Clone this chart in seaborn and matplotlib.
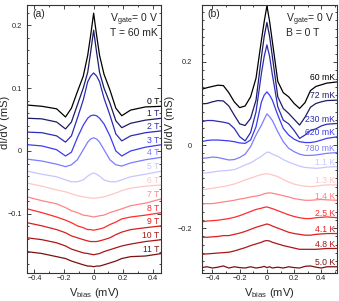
import numpy as np
import pandas as pd
import matplotlib
matplotlib.use("Agg")
import matplotlib.pyplot as plt
import seaborn as sns
from matplotlib.ticker import MultipleLocator, FixedLocator, FixedFormatter
from matplotlib.transforms import blended_transform_factory

# ---- panel (a): field dependence, V_gate = 0, T = 60 mK ----
bias_a = [-0.45, -0.35, -0.25, -0.19, -0.15, -0.11, -0.07, -0.04, -0.02, 0.0,
          0.02, 0.04, 0.07, 0.11, 0.15, 0.19, 0.25, 0.35, 0.46]
field_labels = ["0 T", "1 T", "2 T", "3 T", "4 T", "5 T",
                "6 T", "7 T", "8 T", "9 T", "10 T", "11 T"]

g_0T = [0.073, 0.071, 0.067, 0.054, 0.068, 0.094, 0.119, 0.152, 0.184, 0.219,
        0.184, 0.152, 0.122, 0.097, 0.068, 0.056, 0.065, 0.070, 0.071]
g_1T = [0.052, 0.051, 0.046, 0.035, 0.046, 0.073, 0.100, 0.125, 0.157, 0.192,
        0.157, 0.125, 0.100, 0.076, 0.048, 0.037, 0.044, 0.049, 0.052]
g_2T = [0.030, 0.029, 0.024, 0.014, 0.024, 0.052, 0.081, 0.110, 0.119, 0.124,
        0.119, 0.110, 0.084, 0.057, 0.027, 0.016, 0.024, 0.029, 0.032]
g_3T = [0.010, 0.008, 0.002, -0.008, -0.002, 0.021, 0.041, 0.052, 0.056, 0.057,
        0.056, 0.052, 0.043, 0.024, 0.000, -0.008, 0.000, 0.006, 0.010]
g_4T = [-0.013, -0.016, -0.021, -0.025, -0.022, -0.014, 0.002, 0.014, 0.019, 0.021,
        0.019, 0.014, 0.002, -0.014, -0.022, -0.024, -0.019, -0.014, -0.010]
g_5T = [-0.032, -0.037, -0.041, -0.046, -0.049, -0.049, -0.046, -0.040, -0.037, -0.035,
        -0.037, -0.040, -0.046, -0.049, -0.049, -0.046, -0.041, -0.037, -0.032]
g_6T = [-0.051, -0.056, -0.062, -0.065, -0.068, -0.071, -0.073, -0.074, -0.075, -0.075,
        -0.075, -0.074, -0.073, -0.070, -0.067, -0.063, -0.059, -0.056, -0.054]
g_7T = [-0.073, -0.079, -0.084, -0.090, -0.095, -0.098, -0.102, -0.103, -0.104, -0.105,
        -0.104, -0.103, -0.102, -0.098, -0.095, -0.092, -0.087, -0.083, -0.076]
g_8T = [-0.092, -0.098, -0.105, -0.110, -0.114, -0.119, -0.122, -0.125, -0.125, -0.126,
        -0.125, -0.124, -0.122, -0.117, -0.113, -0.108, -0.105, -0.102, -0.098]
g_9T = [-0.114, -0.119, -0.125, -0.130, -0.135, -0.138, -0.141, -0.143, -0.144, -0.144,
        -0.144, -0.143, -0.141, -0.138, -0.133, -0.129, -0.125, -0.122, -0.119]
g_10T = [-0.138, -0.141, -0.146, -0.151, -0.156, -0.159, -0.162, -0.163, -0.164, -0.165,
         -0.164, -0.163, -0.160, -0.157, -0.154, -0.151, -0.148, -0.144, -0.141]
g_11T = [-0.160, -0.163, -0.168, -0.171, -0.175, -0.178, -0.181, -0.183, -0.183, -0.184,
         -0.183, -0.183, -0.181, -0.178, -0.175, -0.171, -0.168, -0.167, -0.163]
curves_a = [g_0T, g_1T, g_2T, g_3T, g_4T, g_5T, g_6T, g_7T, g_8T, g_9T, g_10T, g_11T]

# ---- panel (b): temperature dependence, V_gate = 0, B = 0 ----
bias_b = [-0.48, -0.44, -0.40, -0.36, -0.32, -0.28, -0.24, -0.20, -0.16, -0.12,
          -0.08, -0.04, -0.02, 0.0, 0.02, 0.04, 0.08, 0.12, 0.16, 0.20,
          0.24, 0.28, 0.32, 0.36, 0.40, 0.44, 0.52]
temp_labels = ["60 mK", "72 mK", "230 mK", "620 mK", "780 mK", "1.1 K",
               "1.3 K", "1.4 K", "2.5 K", "4.1 K", "4.8 K", "5.0 K"]

g_60mK = [0.134, 0.138, 0.141, 0.144, 0.143, 0.126, 0.104, 0.090, 0.094, 0.116,
          0.161, 0.253, 0.297, 0.335, 0.297, 0.249, 0.153, 0.126, 0.116, 0.100,
          0.088, 0.102, 0.131, 0.141, 0.145, 0.149, 0.152]
g_72mK = [0.099, 0.100, 0.104, 0.107, 0.106, 0.094, 0.072, 0.051, 0.047, 0.064,
          0.108, 0.213, 0.261, 0.295, 0.261, 0.213, 0.116, 0.088, 0.076, 0.062,
          0.048, 0.067, 0.091, 0.100, 0.104, 0.107, 0.108]
g_230mK = [0.056, 0.059, 0.059, 0.057, 0.055, 0.052, 0.040, 0.020, 0.010, 0.030,
           0.080, 0.173, 0.213, 0.241, 0.213, 0.169, 0.092, 0.060, 0.051, 0.035,
           0.016, 0.024, 0.035, 0.039, 0.046, 0.050, 0.052]
g_620mK = [0.008, 0.011, 0.012, 0.012, 0.011, 0.010, 0.008, 0.005, 0.004, 0.012,
           0.044, 0.104, 0.120, 0.128, 0.120, 0.108, 0.072, 0.040, 0.024, 0.014,
           0.008, 0.006, 0.006, 0.008, 0.012, 0.016, 0.020]
g_780mK = [-0.032, -0.031, -0.029, -0.030, -0.033, -0.036, -0.035, -0.030, -0.022, -0.004,
           0.024, 0.048, 0.062, 0.075, 0.068, 0.059, 0.032, 0.008, -0.008, -0.016,
           -0.022, -0.025, -0.025, -0.024, -0.022, -0.020, -0.018]
g_1p1K = [-0.068, -0.067, -0.065, -0.063, -0.062, -0.061, -0.059, -0.054, -0.048, -0.043,
          -0.035, -0.027, -0.022, -0.017, -0.018, -0.022, -0.027, -0.035, -0.041, -0.046,
          -0.051, -0.054, -0.055, -0.056, -0.055, -0.053, -0.052]
g_1p3K = [-0.108, -0.106, -0.104, -0.102, -0.100, -0.097, -0.094, -0.089, -0.084, -0.080,
          -0.075, -0.071, -0.070, -0.069, -0.070, -0.072, -0.076, -0.083, -0.089, -0.094,
          -0.097, -0.099, -0.100, -0.099, -0.097, -0.096, -0.096]
g_1p4K = [-0.142, -0.141, -0.141, -0.139, -0.137, -0.135, -0.133, -0.130, -0.128, -0.125,
          -0.123, -0.120, -0.117, -0.116, -0.115, -0.116, -0.119, -0.122, -0.125, -0.129,
          -0.131, -0.133, -0.133, -0.132, -0.131, -0.132, -0.133]
g_2p5K = [-0.185, -0.183, -0.182, -0.181, -0.179, -0.177, -0.174, -0.170, -0.165, -0.160,
          -0.155, -0.152, -0.150, -0.149, -0.151, -0.153, -0.158, -0.163, -0.168, -0.172,
          -0.175, -0.177, -0.177, -0.175, -0.174, -0.173, -0.175]
g_4p1K = [-0.222, -0.222, -0.221, -0.220, -0.218, -0.218, -0.215, -0.212, -0.208, -0.203,
          -0.198, -0.194, -0.192, -0.190, -0.192, -0.195, -0.200, -0.205, -0.210, -0.213,
          -0.215, -0.217, -0.217, -0.215, -0.214, -0.213, -0.213]
g_4p8K = [-0.263, -0.262, -0.261, -0.260, -0.259, -0.258, -0.255, -0.251, -0.247, -0.242,
          -0.238, -0.234, -0.231, -0.230, -0.231, -0.234, -0.238, -0.242, -0.245, -0.248,
          -0.251, -0.251, -0.251, -0.251, -0.250, -0.249, -0.249]
g_5p0K = [-0.295, -0.293, -0.296, -0.294, -0.291, -0.296, -0.293, -0.295, -0.296, -0.293,
          -0.296, -0.294, -0.292, -0.295, -0.293, -0.296, -0.294, -0.296, -0.293, -0.295,
          -0.296, -0.292, -0.291, -0.294, -0.296, -0.293, -0.293]
curves_b = [g_60mK, g_72mK, g_230mK, g_620mK, g_780mK, g_1p1K,
            g_1p3K, g_1p4K, g_2p5K, g_4p1K, g_4p8K, g_5p0K]

colors = ["#000000", "#1c1c68", "#2c2cb4", "#3c3cf0", "#7c7cff", "#c6c6ff",
          "#ffc6c6", "#ff8484", "#ff2c2c", "#d81e1e", "#aa1616", "#7a1010"]

sns.set_style("ticks")
plt.rcParams["font.family"] = ["Liberation Sans", "DejaVu Sans"]
plt.rcParams["mathtext.fontset"] = "custom"
plt.rcParams["mathtext.rm"] = "Liberation Sans"
plt.rcParams["axes.linewidth"] = 0.8


def long_form(bias, curves, labels):
    rows = []
    for lab, g in zip(labels, curves):
        rows.append(pd.DataFrame({"bias": bias, "g": g, "curve": lab}))
    return pd.concat(rows, ignore_index=True)


fig = plt.figure(figsize=(3.39, 3.01), dpi=100)
ax_a = fig.add_axes([27 / 339, 28 / 301, 134 / 339, 268 / 301])
ax_b = fig.add_axes([202 / 339, 28 / 301, 135 / 339, 268 / 301])

panels = [
    (ax_a, bias_a, curves_a, field_labels, (-0.45, 0.455), (-0.194, 0.232),
     [-0.1, 0, 0.1, 0.2], ["\u22120.1", "0", "0.1", "0.2"], 0.02, 3.6, -0.125,
     "(a)", "T = 60 mK", 0.003),
    (ax_b, bias_b, curves_b, temp_labels, (-0.477, 0.515), (-0.308, 0.337),
     [-0.2, 0, 0.2], ["\u22120.2", "0", "0.2"], 0.02, 7.2, -0.2,
     "(b)", "B = 0 T", 0.004),
]

for (ax, bias, curves, labels, xlim, ylim, yt, ytl, yminor, ypad, ylab_x,
     tag, cond, lab_off) in panels:
    df = long_form(bias, curves, labels)
    sns.lineplot(data=df, x="bias", y="g", hue="curve", hue_order=labels,
                 palette=dict(zip(labels, colors)), linewidth=0.9,
                 errorbar=None, legend=False, ax=ax)
    ax.set_xlim(*xlim)
    ax.set_ylim(*ylim)
    ax.xaxis.set_major_locator(FixedLocator([-0.4, -0.2, 0, 0.2, 0.4]))
    ax.xaxis.set_major_formatter(FixedFormatter(["\u22120.4", "\u22120.2", "0", "0.2", "0.4"]))
    ax.xaxis.set_minor_locator(MultipleLocator(0.1))
    ax.yaxis.set_major_locator(FixedLocator(yt))
    ax.yaxis.set_major_formatter(FixedFormatter(ytl))
    ax.yaxis.set_minor_locator(MultipleLocator(yminor))
    ax.tick_params(which="both", direction="in", top=True, right=True,
                   width=0.6, labelsize=5.3)
    ax.tick_params(which="major", length=3)
    ax.tick_params(which="minor", length=1.5)
    ax.tick_params(axis="x", pad=1.5)
    ax.tick_params(axis="y", pad=ypad)
    for sp in ax.spines.values():
        sp.set_visible(True)
        sp.set_color("#333333")

    ax.set_xlabel(r"V$_{\mathrm{bias}}$ (mV)", fontsize=8)
    ax.set_ylabel("dI/dV (mS)", fontsize=8)
    ax.xaxis.set_label_coords(0.5, -0.05)
    ax.yaxis.set_label_coords(ylab_x, 0.563)

    ax.text(0.04, 0.985, tag, transform=ax.transAxes, ha="left", va="top", fontsize=7.5)
    ax.text(0.62, 0.975, r"V$_{\mathrm{gate}}$= 0 V", transform=ax.transAxes,
            ha="left", va="top", fontsize=7.5)
    ax.text(0.62, 0.915, cond, transform=ax.transAxes, ha="left", va="top", fontsize=7.5)

    trans = blended_transform_factory(ax.transAxes, ax.transData)
    for lab, g, c in zip(labels, curves, colors):
        ax.text(0.985, g[-1] + lab_off, lab, transform=trans, ha="right",
                va="baseline", color=c, fontsize=6.2)

fig.savefig("out.png", dpi=100)
